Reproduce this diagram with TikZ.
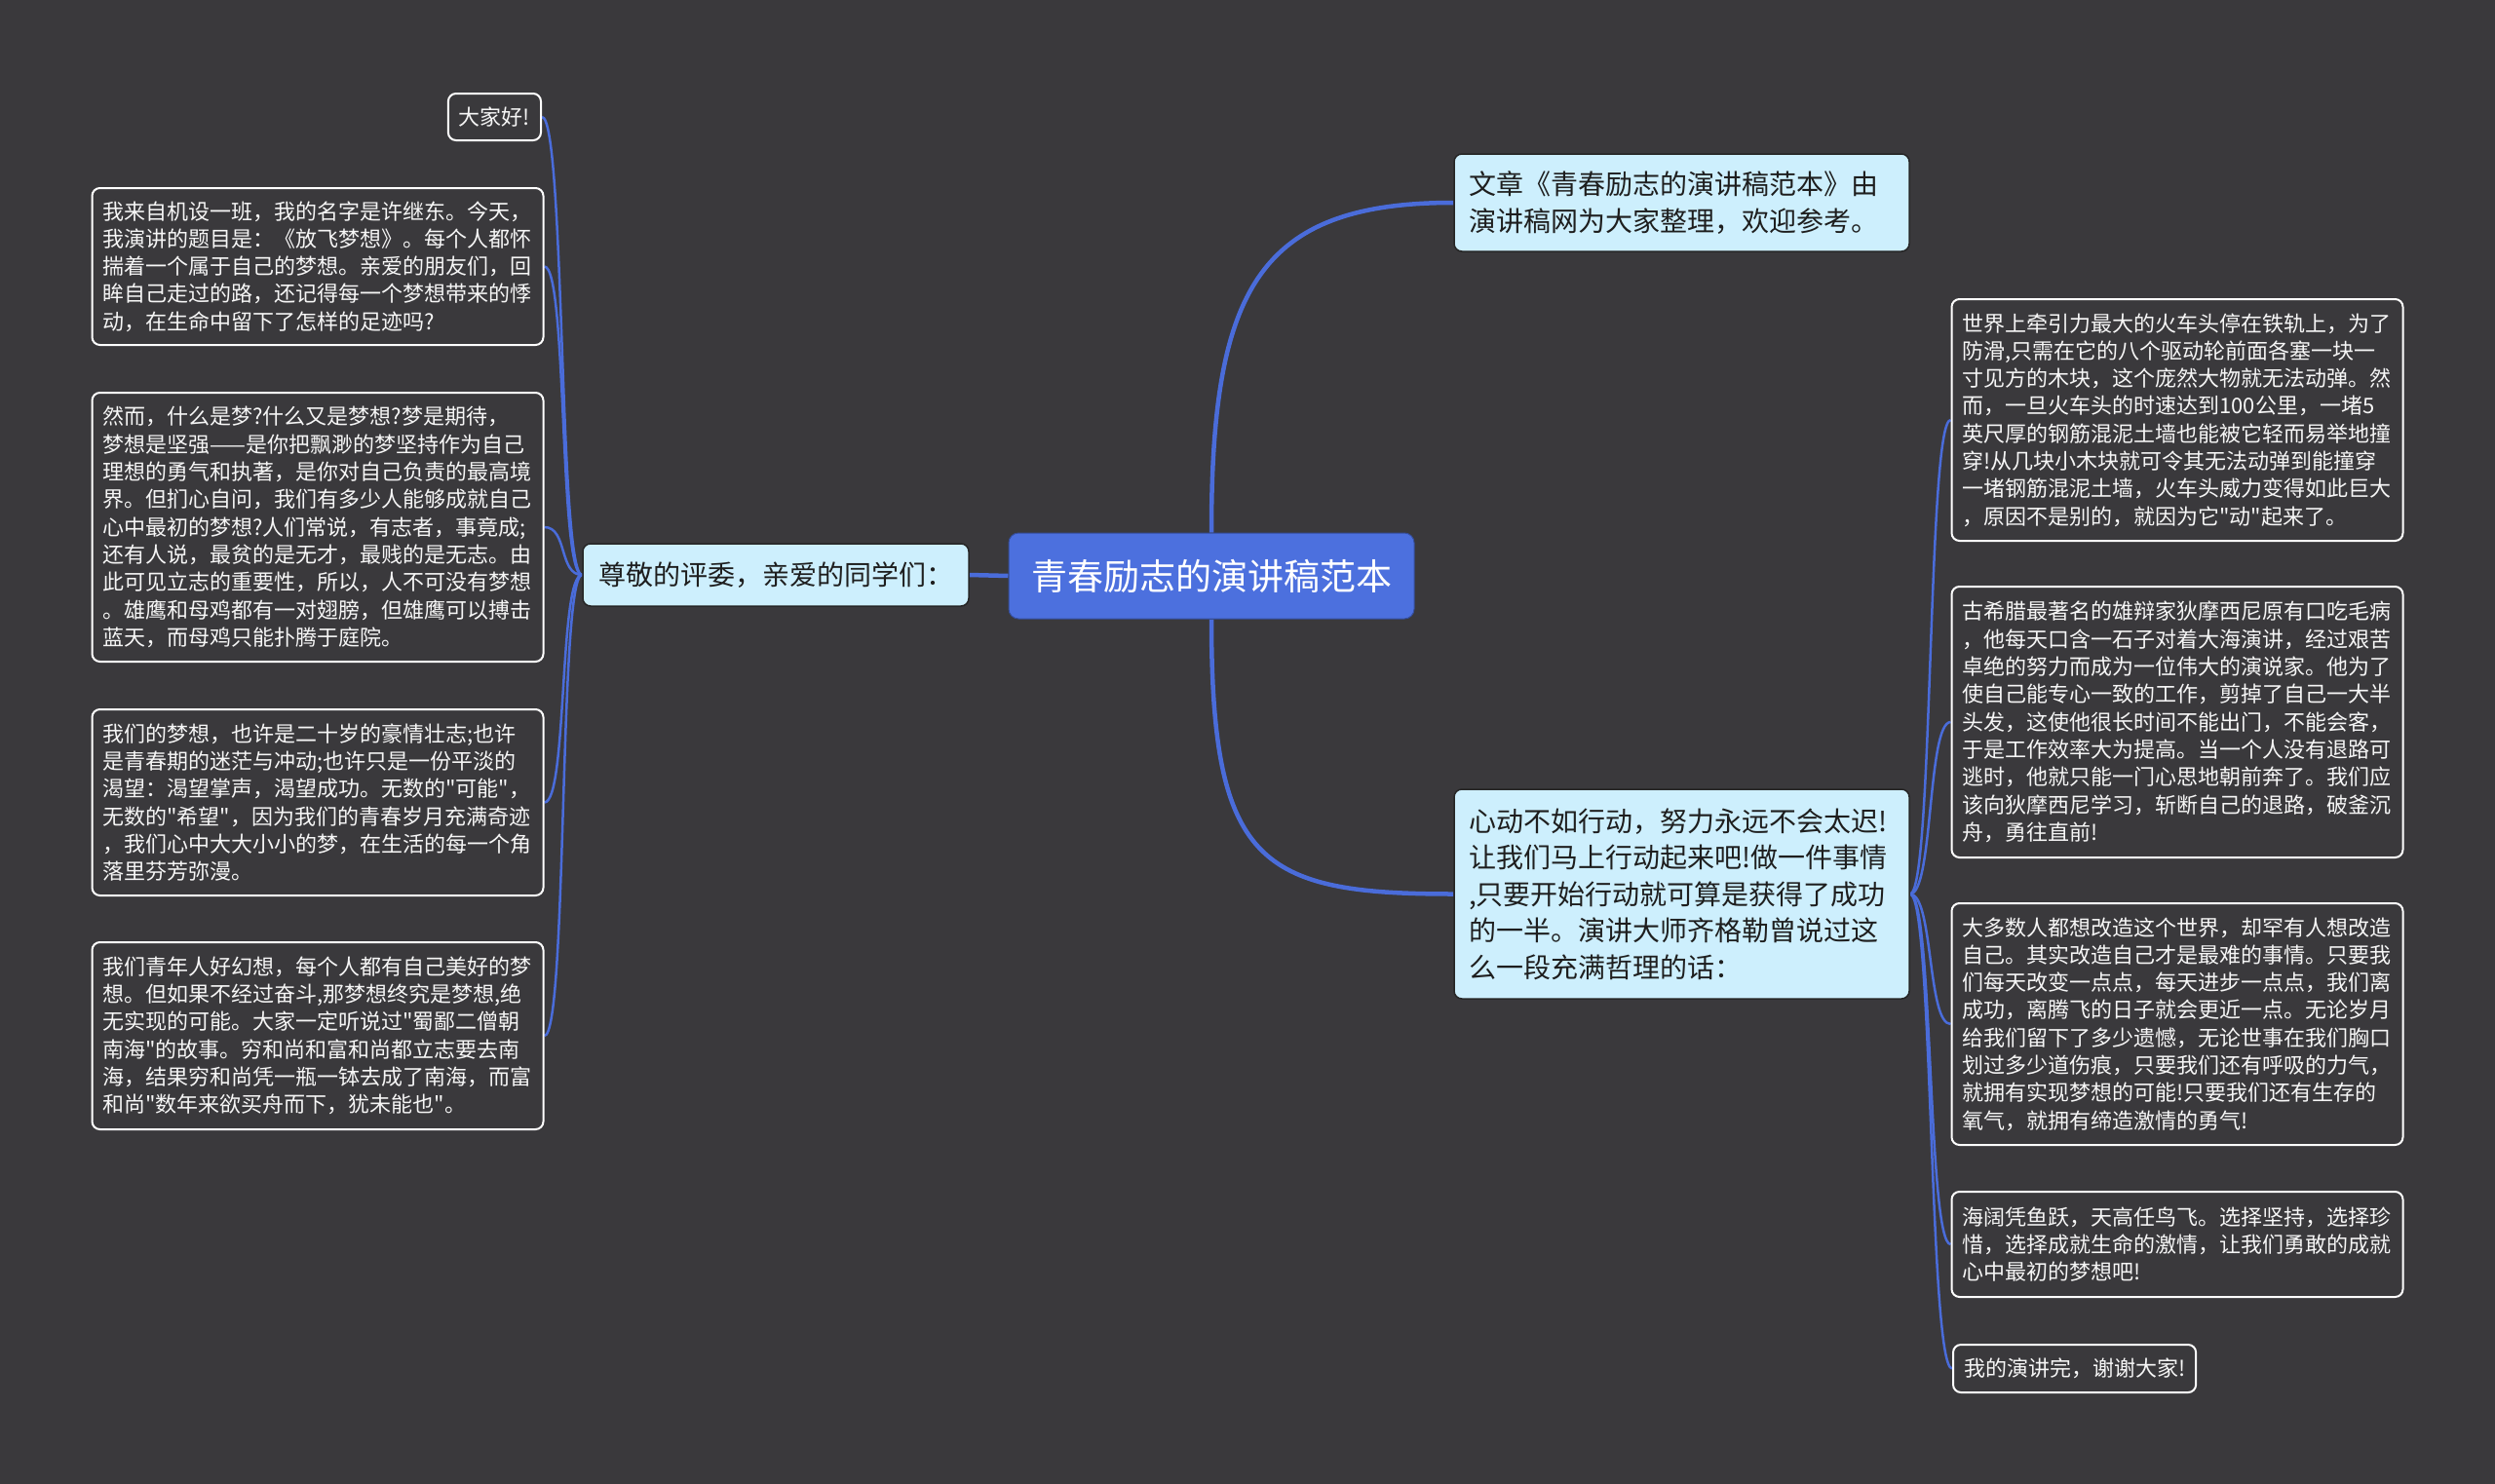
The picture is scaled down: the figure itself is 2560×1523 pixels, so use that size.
\documentclass[tikz,border=0pt]{standalone}
\usepackage{fontspec}
\newfontfamily\cjkfam{Noto Sans CJK SC}
\usetikzlibrary{backgrounds}
\definecolor{bg}{RGB}{58,57,60}
\definecolor{blueline}{RGB}{74,108,218}
\definecolor{rootfill}{RGB}{76,112,222}
\definecolor{subfill}{RGB}{205,239,253}
\definecolor{subtext}{RGB}{30,30,30}
\definecolor{leaftext}{RGB}{246,246,246}
\tikzset{
  leaf/.style={draw=white, line width=2pt, rounded corners=8pt, fill=bg, text=leaftext,
    font=\cjkfam\fontsize{22}{28.3}\selectfont, inner xsep=11pt, inner ysep=6pt, align=left},
  leafwide/.style={leaf, text width=441pt},
  sub/.style={draw=black!85, line width=1.5pt, rounded corners=8pt, fill=subfill, text=subtext,
    font=\cjkfam\fontsize{28}{37.5}\selectfont, inner xsep=15pt, inner ysep=6pt, align=left},
  root/.style={draw=rootfill!70!black, line width=1pt, rounded corners=10pt, fill=rootfill, text=white,
    font=\cjkfam\fontsize{37}{44}\selectfont, minimum width=416pt, minimum height=88pt},
  conn/.style={draw=blueline, line width=2.5pt},
  mainconn/.style={draw=blueline, line width=4.5pt}
}
\begin{document}
\begin{tikzpicture}[x=1pt,y=-1pt]
\useasboundingbox (0,0) rectangle (2560,1523);
% central
\node[root] (C) at (1243,591) {青春励志的演讲稿范本};
% sub nodes
\node[sub, minimum width=396pt, minimum height=64pt, align=center] (B) at (796,590) {尊敬的评委，亲爱的同学们：};
\node[sub, text width=437pt, minimum height=100pt] (T) at (1725.5,208) {文章《青春励志的演讲稿范本》由\\演讲稿网为大家整理，欢迎参考。};
\node[sub, text width=437pt, minimum height=215pt] (M) at (1725.5,917.5) {心动不如行动，努力永远不会太迟!\\让我们马上行动起来吧!做一件事情\\,只要开始行动就可算是获得了成功\\的一半。演讲大师齐格勒曾说过这\\么一段充满哲理的话：};
% left leaves
\node[leaf, anchor=east, minimum height=48pt] (L1) at (556,120) {大家好!};
\node[leafwide, minimum height=161pt] (L2) at (326,273.5) {我来自机设一班，我的名字是许继东。今天，\\我演讲的题目是：《放飞梦想》。每个人都怀\\揣着一个属于自己的梦想。亲爱的朋友们，回\\眸自己走过的路，还记得每一个梦想带来的悸\\动，在生命中留下了怎样的足迹吗?};
\node[leafwide, minimum height=276pt] (L3) at (326,541) {然而，什么是梦?什么又是梦想?梦是期待，\\梦想是坚强——是你把飘渺的梦坚持作为自己\\理想的勇气和执著，是你对自己负责的最高境\\界。但扪心自问，我们有多少人能够成就自己\\心中最初的梦想?人们常说，有志者，事竟成;\\还有人说，最贫的是无才，最贱的是无志。由\\此可见立志的重要性，所以，人不可没有梦想\\。雄鹰和母鸡都有一对翅膀，但雄鹰可以搏击\\蓝天，而母鸡只能扑腾于庭院。};
\node[leafwide, minimum height=191pt] (L4) at (326,823.5) {我们的梦想，也许是二十岁的豪情壮志;也许\\是青春期的迷茫与冲动;也许只是一份平淡的\\渴望：渴望掌声，渴望成功。无数的"可能"，\\无数的"希望"，因为我们的青春岁月充满奇迹\\，我们心中大大小小的梦，在生活的每一个角\\落里芬芳弥漫。};
\node[leafwide, minimum height=192pt] (L5) at (326,1063) {我们青年人好幻想，每个人都有自己美好的梦\\想。但如果不经过奋斗,那梦想终究是梦想,绝\\无实现的可能。大家一定听说过"蜀鄙二僧朝\\南海"的故事。穷和尚和富和尚都立志要去南\\海，结果穷和尚凭一瓶一钵去成了南海，而富\\和尚"数年来欲买舟而下，犹未能也"。};
% right leaves
\node[leafwide, minimum height=248pt] (R1) at (2234,431) {世界上牵引力最大的火车头停在铁轨上，为了\\防滑,只需在它的八个驱动轮前面各塞一块一\\寸见方的木块，这个庞然大物就无法动弹。然\\而，一旦火车头的时速达到100公里，一堵5\\英尺厚的钢筋混泥土墙也能被它轻而易举地撞\\穿!从几块小木块就可令其无法动弹到能撞穿\\一堵钢筋混泥土墙，火车头威力变得如此巨大\\，原因不是别的，就因为它"动"起来了。};
\node[leafwide, minimum height=278pt] (R2) at (2234,741) {古希腊最著名的雄辩家狄摩西尼原有口吃毛病\\，他每天口含一石子对着大海演讲，经过艰苦\\卓绝的努力而成为一位伟大的演说家。他为了\\使自己能专心一致的工作，剪掉了自己一大半\\头发，这使他很长时间不能出门，不能会客，\\于是工作效率大为提高。当一个人没有退路可\\逃时，他就只能一门心思地朝前奔了。我们应\\该向狄摩西尼学习，斩断自己的退路，破釜沉\\舟，勇往直前!};
\node[leafwide, minimum height=248pt] (R3) at (2234,1051) {大多数人都想改造这个世界，却罕有人想改造\\自己。其实改造自己才是最难的事情。只要我\\们每天改变一点点，每天进步一点点，我们离\\成功，离腾飞的日子就会更近一点。无论岁月\\给我们留下了多少遗憾，无论世事在我们胸口\\划过多少道伤痕，只要我们还有呼吸的力气，\\就拥有实现梦想的可能!只要我们还有生存的\\氧气，就拥有缔造激情的勇气!};
\node[leafwide, minimum height=108pt] (R4) at (2234,1277) {海阔凭鱼跃，天高任鸟飞。选择坚持，选择珍\\惜，选择成就生命的激情，让我们勇敢的成就\\心中最初的梦想吧!};
\node[leaf, anchor=west, minimum height=49pt] (R5) at (2003,1404.5) {我的演讲完，谢谢大家!};
\begin{pgfonlayer}{background}
\fill[bg] (0,0) rectangle (2560,1523);
\draw[mainconn] (C.west) -- (B.east);
\draw[mainconn] (C.north) .. controls +(0,-250) and +(-200,0) .. (T.west);
\draw[mainconn] (C.south) .. controls +(0,250) and +(-200,0) .. (M.west);
\foreach \n in {L1,L2,L3,L4,L5}
  \draw[conn] (B.west) .. controls +(-24,0) and +(24,0) .. (\n.east);
\foreach \n in {R1,R2,R3,R4,R5}
  \draw[conn] (M.east) .. controls +(24,0) and +(-24,0) .. (\n.west);
\end{pgfonlayer}
\end{tikzpicture}
\end{document}
